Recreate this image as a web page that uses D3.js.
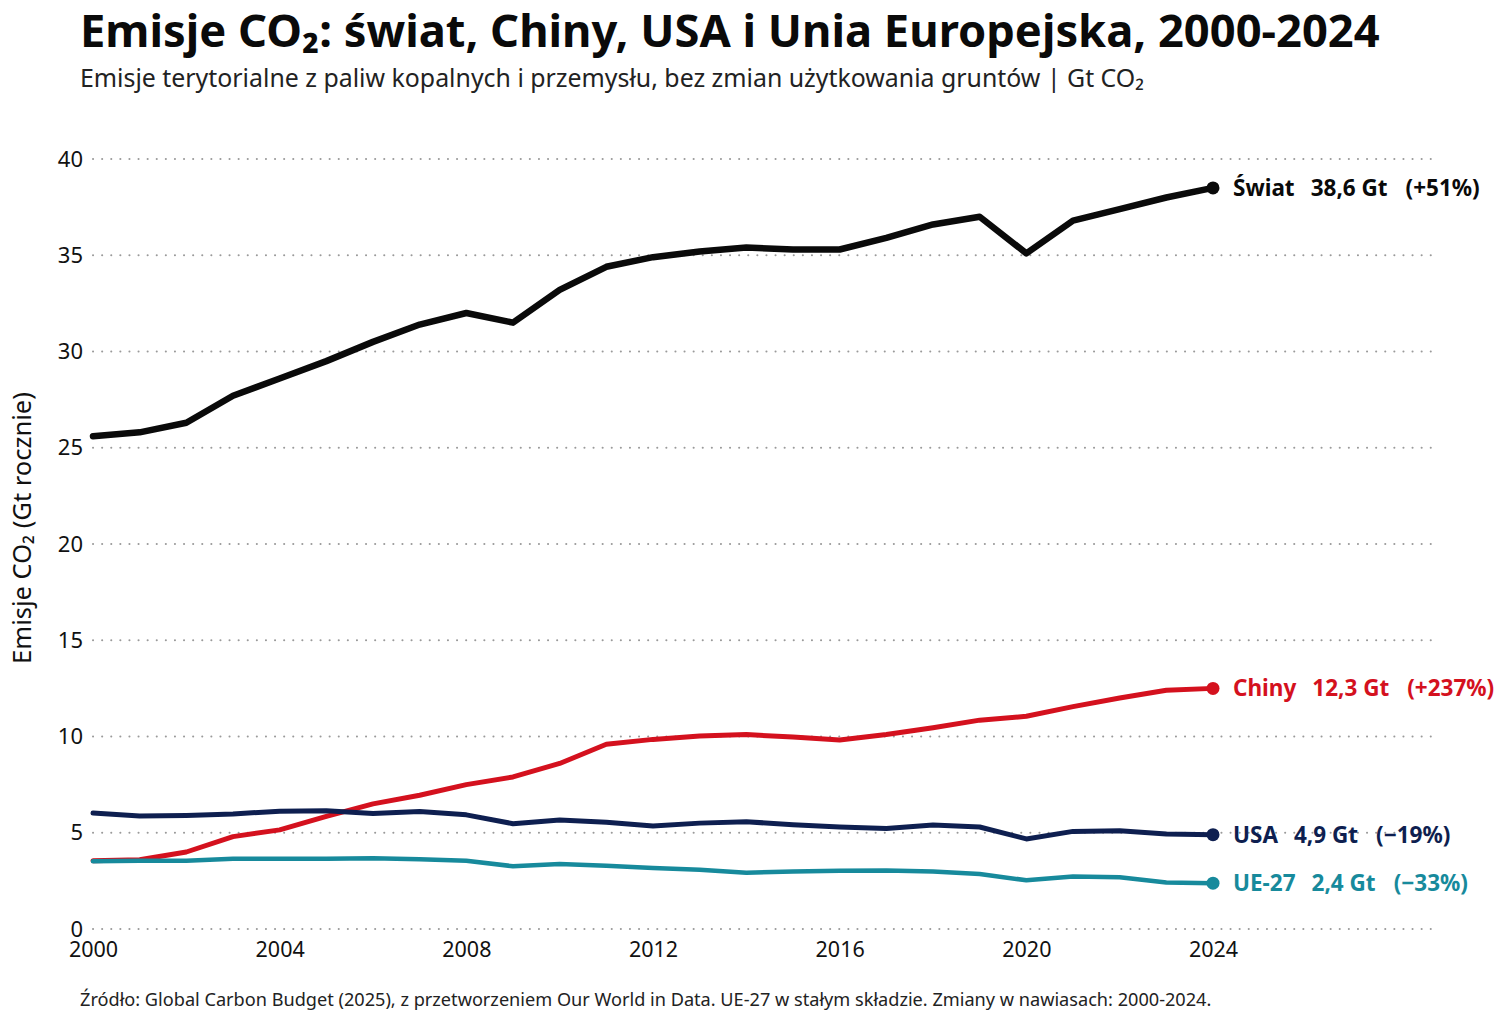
<!DOCTYPE html>
<html>
<head>
<meta charset="utf-8">
<script src="https://cdn.jsdelivr.net/npm/d3@7"></script>
<style>
  body { margin: 0; background: #fff; }
  svg { display: block; font-family: "Noto Sans", "Open Sans", sans-serif; }
</style>
</head>
<body>
<div id="chart"></div>
<script>
const years = d3.range(2000, 2025);
const world = [25.6, 25.8, 26.3, 27.7, 28.6, 29.5, 30.5, 31.4, 32.0, 31.5, 33.2, 34.4, 34.9, 35.2, 35.4, 35.3, 35.3, 35.9, 36.6, 37.0, 35.1, 36.8, 37.4, 38.0, 38.5];
const china = [3.55, 3.6, 4.0, 4.8, 5.15, 5.85, 6.5, 6.95, 7.5, 7.9, 8.6, 9.6, 9.85, 10.02, 10.1, 9.97, 9.82, 10.1, 10.45, 10.85, 11.05, 11.55, 12.0, 12.4, 12.5];
const usa = [6.02, 5.87, 5.9, 5.98, 6.12, 6.14, 6.0, 6.1, 5.93, 5.47, 5.66, 5.55, 5.35, 5.5, 5.57, 5.42, 5.3, 5.22, 5.4, 5.3, 4.68, 5.07, 5.1, 4.93, 4.9];
const eu = [3.52, 3.55, 3.55, 3.65, 3.65, 3.65, 3.67, 3.62, 3.55, 3.26, 3.38, 3.28, 3.17, 3.08, 2.92, 2.99, 3.02, 3.04, 2.99, 2.86, 2.53, 2.73, 2.69, 2.42, 2.38];

const seriesNames = ["Świat", "Chiny", "USA", "UE-27"];
const endLabels = ["38,6 Gt", "12,3 Gt", "4,9 Gt", "2,4 Gt"];
const changeLabels = ["(+51%)", "(+237%)", "(\u221219%)", "(\u221233%)"];
const colors = ["#0a0a0a", "#d4111e", "#0e1f50", "#178a9c"];
const widths = [6.5, 5, 5, 4.5];
const yTicks = [0, 5, 10, 15, 20, 25, 30, 35, 40];
const xTicks = [2000, 2004, 2008, 2012, 2016, 2020, 2024];

const series = [world, china, usa, eu];

const width = 1509, height = 1024;
const svg = d3.select("#chart").append("svg")
  .attr("width", width).attr("height", height);

const x = d3.scaleLinear().domain([2000, 2024]).range([93, 1213]);
const y = d3.scaleLinear().domain([0, 40]).range([929, 159]);
const gridRight = 1437;

// grid
svg.append("g").selectAll("line")
  .data(yTicks)
  .join("line")
  .attr("x1", x(2000)).attr("x2", gridRight)
  .attr("y1", d => y(d)).attr("y2", d => y(d))
  .attr("stroke", "#9a9a9a")
  .attr("stroke-width", 2)
  .attr("stroke-linecap", "round")
  .attr("stroke-dasharray", "0.1,9");

// y axis
const yAxis = svg.append("g")
  .attr("transform", `translate(${x(2000)},0)`)
  .call(d3.axisLeft(y).tickValues(yTicks).tickSize(0).tickPadding(10));
yAxis.select(".domain").remove();
yAxis.selectAll("text")
  .attr("font-family", "Noto Sans")
  .attr("font-size", 22)
  .attr("fill", "#111");

// x axis
const xAxis = svg.append("g")
  .attr("transform", `translate(0,${y(0)})`)
  .call(d3.axisBottom(x).tickValues(xTicks).tickFormat(d3.format("d")).tickSize(0).tickPadding(13));
xAxis.select(".domain").remove();
xAxis.selectAll("text")
  .attr("font-family", "Noto Sans")
  .attr("font-size", 21.5)
  .attr("fill", "#111");

// lines
const line = d3.line()
  .x((d, i) => x(years[i]))
  .y(d => y(d));

svg.append("g").selectAll("path")
  .data(series)
  .join("path")
  .attr("d", line)
  .attr("fill", "none")
  .attr("stroke", (d, i) => colors[i])
  .attr("stroke-width", (d, i) => widths[i])
  .attr("stroke-linejoin", "round")
  .attr("stroke-linecap", "round");

// end dots
svg.append("g").selectAll("circle")
  .data(series)
  .join("circle")
  .attr("cx", x(2024))
  .attr("cy", d => y(d[d.length - 1]))
  .attr("r", 6.5)
  .attr("fill", (d, i) => colors[i]);

// end labels
const lbl = svg.append("g").selectAll("text")
  .data(series)
  .join("text")
  .attr("x", x(2024) + 20)
  .attr("y", d => y(d[d.length - 1]))
  .attr("dy", "0.35em")
  .attr("font-size", 22.5)
  .attr("font-weight", "bold")
  .attr("fill", (d, i) => colors[i]);
lbl.append("tspan").text((d, i) => seriesNames[i]);
lbl.append("tspan").attr("dx", 16).text((d, i) => endLabels[i]);
lbl.append("tspan").attr("dx", 18).text((d, i) => changeLabels[i]);

// titles
function fitText(sel, target) {
  const len = sel.node().getComputedTextLength();
  const fs = parseFloat(sel.attr("font-size"));
  sel.attr("font-size", fs * target / len);
}

const title = svg.append("text")
  .attr("x", 80).attr("y", 47)
  .attr("font-size", 40)
  .attr("font-weight", "bold")
  .attr("fill", "#0a0a0a")
  .text("Emisje CO₂: świat, Chiny, USA i Unia Europejska, 2000-2024");
fitText(title, 1300);

const subtitle = svg.append("text")
  .attr("x", 80).attr("y", 87)
  .attr("font-size", 22)
  .attr("fill", "#222")
  .text("Emisje terytorialne z paliw kopalnych i przemysłu, bez zmian użytkowania gruntów | Gt CO₂");
fitText(subtitle, 1065);

const yLabel = svg.append("text")
  .attr("transform", `translate(31,528) rotate(-90)`)
  .attr("text-anchor", "middle")
  .attr("font-size", 22)
  .attr("fill", "#111")
  .text("Emisje CO₂ (Gt rocznie)");
fitText(yLabel, 272);

const source = svg.append("text")
  .attr("x", 80).attr("y", 1006)
  .attr("font-size", 16)
  .attr("fill", "#222")
  .text("Źródło: Global Carbon Budget (2025), z przetworzeniem Our World in Data. UE-27 w stałym składzie. Zmiany w nawiasach: 2000-2024.");
fitText(source, 1132);
</script>
</body>
</html>
